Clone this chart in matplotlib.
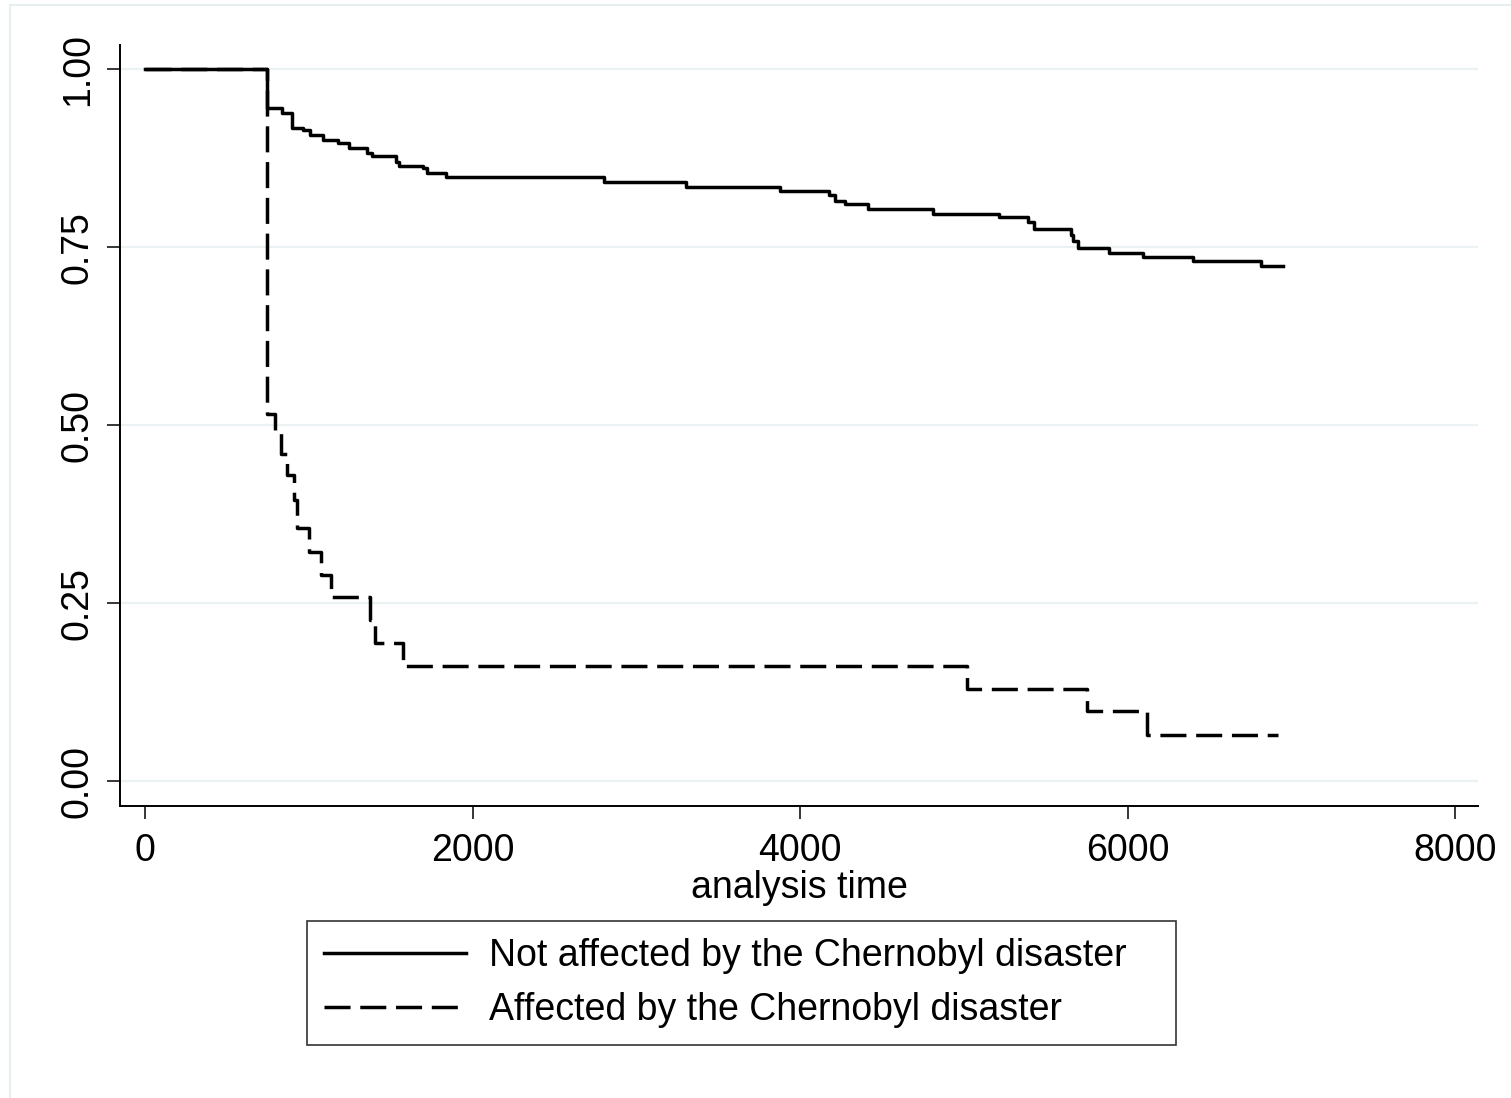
import matplotlib.pyplot as plt
from matplotlib.patches import Rectangle

plt.rcParams['font.family'] = ['Liberation Sans', 'DejaVu Sans']

# Kaplan-Meier estimates
tempo_nao = [0, 743, 838, 896, 963, 1008, 1085, 1181, 1246, 1358, 1384, 1533, 1553,
             1700, 1724, 1838, 2803, 3304, 3878, 4177, 4214, 4275, 4417, 4814, 5217,
             5391, 5431, 5653, 5669, 5700, 5889, 6093, 6402, 6815, 6951]
surv_nao = [1.0, 0.945, 0.939, 0.918, 0.915, 0.907, 0.901, 0.896, 0.889, 0.882, 0.878,
            0.870, 0.864, 0.861, 0.854, 0.849, 0.842, 0.834, 0.829, 0.823, 0.815, 0.811,
            0.804, 0.797, 0.793, 0.786, 0.775, 0.767, 0.758, 0.749, 0.742, 0.736, 0.730,
            0.723, 0.723]

tempo_sim = [0, 743, 794, 831, 865, 910, 926, 1002, 1075, 1134, 1374, 1405, 1577,
             5018, 5751, 6121, 6919]
surv_sim = [1.0, 0.515, 0.49, 0.46, 0.43, 0.395, 0.355, 0.322, 0.289, 0.259, 0.226,
            0.194, 0.162, 0.130, 0.098, 0.065, 0.065]

rotulos = ['Not affected by the Chernobyl disaster', 'Affected by the Chernobyl disaster']
yticks = [0.0, 0.25, 0.5, 0.75, 1.0]
xticks = [0, 2000, 4000, 6000, 8000]

fs = 27

fig = plt.figure(figsize=(15.11, 10.98), dpi=100)
fig.patches.append(Rectangle((10 / 1511, -0.1), 1.2, 1.1 - 5 / 1098,
                             transform=fig.transFigure, fill=False,
                             edgecolor='#e6eef0', lw=1.5))
ax = fig.add_axes([120 / 1511, 1 - 806 / 1098, (1478 - 120) / 1511, (806 - 45) / 1098])

# Criar curvas
ax.step(tempo_nao, surv_nao, where='post', color='black', lw=2.5, label=rotulos[0])
ax.step(tempo_sim, surv_sim, where='post', color='black', lw=2.5,
        linestyle=(0, (7.5, 2.8)), label=rotulos[1])

ax.set_xlim(-153, 8140)
ax.set_ylim(-0.035, 1.034)
ax.set_yticks(yticks)
ax.set_yticklabels(['0.00', '0.25', '0.50', '0.75', '1.00'], rotation=90, va='center')
ax.set_xticks(xticks)
ax.tick_params(axis='both', labelsize=fs, length=9.5, width=1.1, direction='out')
ax.tick_params(axis='y', pad=8)
ax.tick_params(axis='x', pad=10)
ax.yaxis.grid(True, color='#eaf2f3', lw=1.6)
ax.set_axisbelow(True)
for s in ['top', 'right']:
    ax.spines[s].set_visible(False)
for s in ['left', 'bottom']:
    ax.spines[s].set_linewidth(1.4)
ax.set_xlabel('analysis time', fontsize=fs, labelpad=1)

leg = fig.legend(loc='center', bbox_to_anchor=(307 / 1511, 1 - 1045 / 1098,
                                               (1176 - 307) / 1511, 124 / 1098),
                 mode='expand', fontsize=fs, frameon=True, fancybox=False,
                 edgecolor='black', handlelength=3.8, handletextpad=0.6,
                 labelspacing=0.5, borderpad=0.45, borderaxespad=0)
leg.get_frame().set_linewidth(1.2)

fig.savefig('out.png', dpi=100, facecolor='white')
